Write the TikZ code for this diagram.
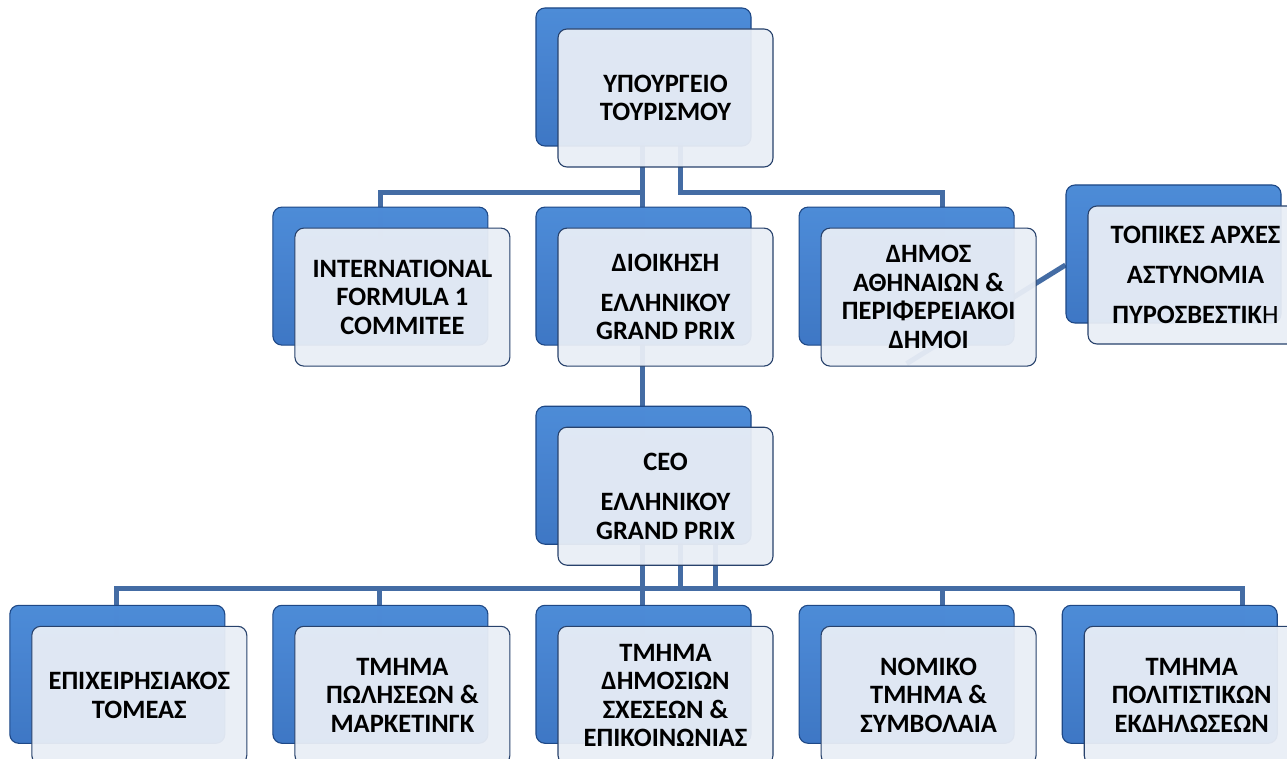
\documentclass[tikz,border=0pt]{standalone}
\usepackage{fontspec}
\setmainfont{Carlito}
\usepackage{xcolor}
\usepackage{tikz}
\usetikzlibrary{positioning,calc,shadows,backgrounds}

\definecolor{boxface}{RGB}{233,238,246}
\definecolor{boxedge}{RGB}{40,66,108}
\definecolor{backtop}{RGB}{68,134,214}
\definecolor{backbottom}{RGB}{52,112,194}
\definecolor{backedge}{RGB}{30,72,134}
\definecolor{linkblue}{RGB}{68,108,164}

\tikzset{
    unit/.style={rectangle, rounded corners=9pt, draw=boxedge, line width=1.1pt,
        fill=boxface, fill opacity=0.94, text opacity=1, align=center,
        minimum width=215pt, minimum height=138pt, inner sep=4pt,
        font=\bfseries\fontsize{26.5}{28.5}\selectfont,
        copy shadow={shadow xshift=-22pt, shadow yshift=21pt, top color=backtop,
            bottom color=backbottom, draw=backedge, line width=1.1pt}},
    link/.style={draw=linkblue, line width=5pt}
}

\begin{document}
\begin{tikzpicture}[x=1pt, y=-1pt]
    \useasboundingbox (0,0) rectangle (1287,759);
    \clip (0,0) rectangle (1287,759);

    %Nodes
    \node[unit] (ministry)  at (665.5,98)               {ΥΠΟΥΡΓΕΙΟ\\ΤΟΥΡΙΣΜΟΥ};
    \node[unit] (gp_admin)  [below=60pt of ministry]    {ΔΙΟΙΚΗΣΗ\\[11.5pt]ΕΛΛΗΝΙΚΟΥ\\GRAND PRIX};
    \node[unit] (f1_board)  [left=47pt of gp_admin]     {INTERNATIONAL\\FORMULA 1\\COMMITEE};
    \node[unit] (athens)    [right=47pt of gp_admin]    {ΔΗΜΟΣ\\ΑΘΗΝΑΙΩΝ \&\\ΠΕΡΙΦΕΡΕΙΑΚΟΙ\\ΔΗΜΟΙ};
    \node[unit] (locals)    at (1195.5,275)             {ΤΟΠΙΚΕΣ ΑΡΧΕΣ\\[11.5pt]ΑΣΤΥΝΟΜΙΑ\\[11.5pt]ΠΥΡΟΣΒΕΣΤΙΚ{\mdseries Η}};
    \node[unit] (ceo)       [below=60pt of gp_admin]    {CEO\\[11.5pt]ΕΛΛΗΝΙΚΟΥ\\GRAND PRIX};
    \node[unit] (pr_dept)   [below=60pt of ceo]         {ΤΜΗΜΑ\\ΔΗΜΟΣΙΩΝ\\ΣΧΕΣΕΩΝ \&\\ΕΠΙΚΟΙΝΩΝΙΑΣ};
    \node[unit] (sales)     [left=47pt of pr_dept]      {ΤΜΗΜΑ\\ΠΩΛΗΣΕΩΝ \&\\ΜΑΡΚΕΤΙΝΓΚ};
    \node[unit] (ops)       [left=47pt of sales]        {ΕΠΙΧΕΙΡΗΣΙΑΚΟΣ\\ΤΟΜΕΑΣ};
    \node[unit] (legal)     [right=47pt of pr_dept]     {ΝΟΜΙΚΟ\\ΤΜΗΜΑ \&\\ΣΥΜΒΟΛΑΙΑ};
    \node[unit] (culture)   [right=47pt of legal]       {ΤΜΗΜΑ\\ΠΟΛΙΤΙΣΤΙΚΩΝ\\ΕΚΔΗΛΩΣΕΩΝ};

    %Lines
    \begin{scope}[on background layer]
    \fill[white] (0,0) rectangle (1287,759);
    \coordinate (bus_top) at (0,193);
    \coordinate (bus_low) at (0,588);
    \draw[link] ([xshift=-23pt]ministry.center) -- ([xshift=-23pt]pr_dept.center);
    \draw[link] ([xshift=-22pt]f1_board.center) |- ([xshift=-23pt]ministry.center |- bus_top);
    \draw[link] ([xshift=14.5pt]ministry.center) |- ([xshift=14pt]athens.center |- bus_top) -- ([xshift=14pt]athens.center);
    \draw[link] ([xshift=-22pt,yshift=3pt]athens.south) -- ([xshift=-130pt,yshift=10pt]locals.center);
    \draw[link] ([xshift=14.5pt]ceo.center) -- ([xshift=14.5pt]ceo.center |- bus_low);
    \draw[link] ([xshift=49.5pt]ceo.center) -- ([xshift=49.5pt]ceo.center |- bus_low);
    \draw[link] ([xshift=-22.5pt]ops.center) |- ([xshift=51pt]culture.center |- bus_low) -- ([xshift=51pt]culture.center);
    \draw[link] ([xshift=-22.5pt]sales.center) -- ([xshift=-22.5pt]sales.center |- bus_low);
    \draw[link] ([xshift=14pt]legal.center) -- ([xshift=14pt]legal.center |- bus_low);
    \end{scope}
\end{tikzpicture}
\end{document}
